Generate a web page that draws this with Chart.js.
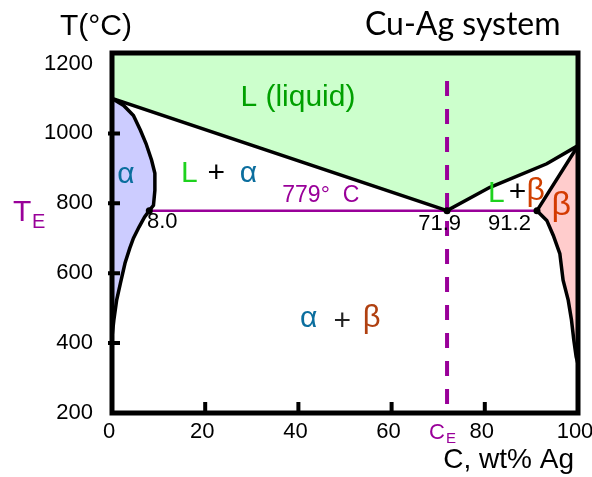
<!DOCTYPE html>
<html>
<head>
<meta charset="utf-8">
<script src="https://cdn.jsdelivr.net/npm/chart.js@4.4.1/dist/chart.umd.min.js"></script>
<style>
  html, body { margin: 0; padding: 0; background: #fff; }
  #contenitore { width: 592px; height: 477px; position: relative; }
</style>
</head>
<body>
<div id="contenitore"><canvas id="diagrammaChart"></canvas></div>
<script>
// Diagramma di fase Cu-Ag: composizione in wt% Ag, temperatura in °C
var liquidusX = [0, 71.9, 81, 93.3, 100];
var liquidusT = [1100, 779, 845, 913, 965];

// regione alfa: solidus + solvus lato rame
var alfaX = [0, 2.5, 4.6, 6.1, 7.3, 8.5, 9.2, 9.2, 8.9, 8.0, 7.0, 5.8, 4.6, 3.8, 2.8, 1.8, 1.0, 0.4, 0];
var alfaT = [1100, 1080, 1051, 1009, 971, 923, 886, 837, 794, 779, 761, 732, 700, 671, 629, 571, 523, 466, 418];

// regione beta: solidus + solvus lato argento
var betaX = [100, 91.2, 93.3, 94.7, 96.1, 96.8, 97.9, 98.6, 99.1, 99.6, 100];
var betaT = [965, 779, 751, 708, 656, 580, 523, 466, 409, 361, 340];

// punto eutettico
var eutetticoX = [8.0, 71.9, 91.2];
var eutetticoT = 779;
var composizioneE = 71.9;
var lineaCeT = [1150, 200];

var xTicks = [0, 20, 40, 60, 80, 100];
var yTicks = [200, 400, 600, 800, 1000, 1200];

var FONT = "'Liberation Sans', Arial, sans-serif";
var VIOLA = '#990099';
var BLU = '#0b6e9e';
var VERDE = '#1ed21e';

function punti(xs, ts) {
  return xs.map(function (x, i) {
    return { x: x, y: Array.isArray(ts) ? ts[i] : ts };
  });
}

// etichette delle fasi, posizionate in coordinate (wt% Ag, °C)
var etichette = [
  { testo: 'L (liquid)', x: 39.9, t: 1078, colore: '#00a000', size: 30 },
  { testo: 'α', x: 3.0, t: 858, colore: BLU, size: 30 },
  { testo: 'L', x: 16.6, t: 861, colore: VERDE, size: 30 },
  { testo: '+', x: 22.4, t: 861, colore: '#000', size: 30 },
  { testo: 'α', x: 29.3, t: 861, colore: BLU, size: 30 },
  { testo: '779°  C', x: 44.8, t: 804, colore: VIOLA, size: 23 },
  { testo: '8.0', x: 7.5, t: 729, colore: '#000', size: 22, align: 'left' },
  { testo: '71.9', x: 65.7, t: 724, colore: '#000', size: 22, align: 'left' },
  { testo: '91.2', x: 80.7, t: 724, colore: '#000', size: 22, align: 'left' },
  { testo: 'L', x: 82.5, t: 804, colore: VERDE, size: 30 },
  { testo: '+', x: 87.0, t: 807, colore: '#000', size: 30 },
  { testo: 'β', x: 90.9, t: 809, colore: '#d04000', size: 32 },
  { testo: 'β', x: 96.4, t: 766, colore: '#d43a00', size: 34 },
  { testo: 'α', x: 42.2, t: 446, colore: BLU, size: 30 },
  { testo: '+', x: 49.4, t: 437, colore: '#222', size: 30 },
  { testo: 'β', x: 55.7, t: 447, colore: '#b04010', size: 31 }
];

// Cornice, tacche interne e testi del diagramma
var decorazioni = {
  id: 'decorazioni',
  afterDatasetsDraw: function (chart) {
    var ctx = chart.ctx;
    var a = chart.chartArea;
    var sx = chart.scales.x;
    var sy = chart.scales.y;
    ctx.save();

    // etichette delle fasi
    ctx.textBaseline = 'alphabetic';
    etichette.forEach(function (e) {
      ctx.font = e.size + 'px ' + FONT;
      ctx.fillStyle = e.colore;
      ctx.textAlign = e.align || 'center';
      ctx.fillText(e.testo, sx.getPixelForValue(e.x), sy.getPixelForValue(e.t));
    });

    // cornice
    ctx.strokeStyle = '#000';
    ctx.lineWidth = 5;
    ctx.strokeRect(a.left, a.top, a.right - a.left, a.bottom - a.top);

    // tacche verso l'interno
    ctx.lineWidth = 4;
    ctx.beginPath();
    xTicks.slice(1, -1).forEach(function (v) {
      var px = sx.getPixelForValue(v);
      ctx.moveTo(px, a.bottom);
      ctx.lineTo(px, a.bottom - 11);
    });
    yTicks.slice(1, -1).forEach(function (v) {
      var py = sy.getPixelForValue(v);
      ctx.moveTo(a.left - 4, py);
      ctx.lineTo(a.left + 8, py);
    });
    ctx.stroke();

    // titoli
    ctx.fillStyle = '#000';
    ctx.textAlign = 'left';
    ctx.font = '30px ' + FONT;
    ctx.fillText('T(°C)', 60, 35);
    ctx.font = "32px Lato, 'Open Sans', sans-serif";
    ctx.fillText('Cu-Ag system', 365, 35);
    ctx.font = '28px ' + FONT;
    ctx.textAlign = 'right';
    ctx.fillText('C, wt% Ag', 574, 468);

    // T_E e C_E
    ctx.fillStyle = VIOLA;
    ctx.textAlign = 'left';
    var yE = sy.getPixelForValue(eutetticoT);
    ctx.font = '30px ' + FONT;
    ctx.fillText('T', 13, yE + 10);
    ctx.font = '20px ' + FONT;
    ctx.fillText('E', 32, yE + 17);
    var xE = sx.getPixelForValue(composizioneE);
    ctx.font = '22px ' + FONT;
    ctx.fillText('C', xE - 18, 439);
    ctx.font = '15px ' + FONT;
    ctx.fillText('E', xE - 1, 443);

    ctx.restore();
  }
};

var ctxDiagramma = document.getElementById('diagrammaChart').getContext('2d');
var diagrammaChart = new Chart(ctxDiagramma, {
  type: 'scatter',
  data: {
    datasets: [
      {
        label: 'Eutettico',
        data: punti(eutetticoX, eutetticoT),
        showLine: false,
        pointRadius: 3.5,
        pointBackgroundColor: '#000',
        pointBorderWidth: 0,
        order: 0
      },
      {
        label: 'C_E',
        data: punti([composizioneE, composizioneE], lineaCeT),
        showLine: true,
        borderColor: VIOLA,
        borderWidth: 4,
        borderDash: [15, 13],
        pointRadius: 0,
        fill: false,
        order: 1
      },
      {
        label: 'Liquidus',
        data: punti(liquidusX, liquidusT),
        showLine: true,
        borderColor: '#000',
        borderWidth: 3.5,
        backgroundColor: '#ccffcc',
        pointRadius: 0,
        fill: 'end',
        order: 2
      },
      {
        label: 'Alfa',
        data: punti(alfaX, alfaT),
        showLine: true,
        borderColor: '#000',
        borderWidth: 3.5,
        backgroundColor: '#ccccff',
        pointRadius: 0,
        fill: 'shape',
        order: 3
      },
      {
        label: 'Beta',
        data: punti(betaX, betaT),
        showLine: true,
        borderColor: '#000',
        borderWidth: 3.5,
        backgroundColor: '#ffcccc',
        pointRadius: 0,
        fill: 'shape',
        order: 4
      },
      {
        label: 'Isoterma eutettica',
        data: punti([eutetticoX[0], eutetticoX[2]], eutetticoT),
        showLine: true,
        borderColor: VIOLA,
        borderWidth: 2.5,
        pointRadius: 0,
        fill: false,
        order: 5
      }
    ]
  },
  options: {
    responsive: true,
    maintainAspectRatio: false,
    animation: false,
    layout: { padding: { top: 53, right: 14, left: 0, bottom: 0 } },
    plugins: {
      legend: { display: false },
      tooltip: { enabled: false }
    },
    elements: { line: { tension: 0 } },
    scales: {
      x: {
        type: 'linear',
        min: 0,
        max: 100,
        grid: { display: false, drawTicks: false },
        border: { display: false },
        ticks: {
          color: '#000',
          font: { family: FONT, size: 22 },
          padding: 6,
          labelOffset: -3
        },
        afterBuildTicks: function (scale) {
          scale.ticks = xTicks.map(function (v) { return { value: v }; });
        },
        afterFit: function (scale) {
          scale.height = 64;
          scale.paddingLeft = 0;
          scale.paddingRight = 0;
        }
      },
      y: {
        type: 'linear',
        min: 200,
        max: 1230,
        grid: { display: false, drawTicks: false },
        border: { display: false },
        ticks: {
          color: '#000',
          font: { family: FONT, size: 22 },
          padding: 19,
          callback: function (v) { return String(v); }
        },
        afterBuildTicks: function (scale) {
          scale.ticks = yTicks.map(function (v) { return { value: v }; });
        },
        afterFit: function (scale) {
          scale.width = 112;
          scale.paddingTop = 0;
          scale.paddingBottom = 0;
        }
      }
    }
  },
  plugins: [decorazioni]
});
</script>
</body>
</html>
